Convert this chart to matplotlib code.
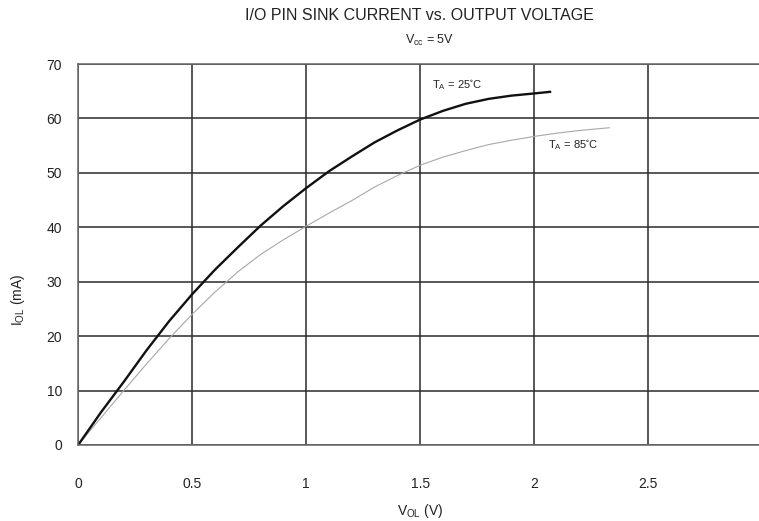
import matplotlib
matplotlib.use('Agg')
import matplotlib.pyplot as plt

plt.rcParams['font.family'] = ['Liberation Sans', 'DejaVu Sans']
plt.rcParams['mathtext.fontset'] = 'custom'
plt.rcParams['mathtext.rm'] = 'Liberation Sans'
plt.rcParams['mathtext.default'] = 'regular'

# data
v_25 = [0.0, 0.1, 0.2, 0.3, 0.4, 0.5, 0.6, 0.7, 0.8, 0.9, 1.0, 1.1, 1.2, 1.3, 1.4,
        1.5, 1.6, 1.7, 1.8, 1.9, 2.0, 2.07]
i_25 = [0, 6.0, 11.6, 17.4, 22.8, 27.7, 32.2, 36.3, 40.3, 43.9, 47.2, 50.3, 53.0, 55.6,
        57.8, 59.8, 61.4, 62.7, 63.6, 64.2, 64.6, 64.9]

v_85 = [0.0, 0.1, 0.2, 0.3, 0.4, 0.5, 0.6, 0.7, 0.8, 0.9, 1.0, 1.1, 1.2, 1.3, 1.4,
        1.5, 1.6, 1.7, 1.8, 1.9, 2.0, 2.1, 2.2, 2.33]
i_85 = [0, 5.0, 10.0, 14.9, 19.6, 24.0, 28.1, 31.8, 35.0, 37.7, 40.2, 42.6, 44.9, 47.4,
        49.5, 51.4, 52.9, 54.1, 55.2, 56.0, 56.7, 57.3, 57.8, 58.3]

x_ticks = [0, 0.5, 1, 1.5, 2, 2.5, 3]
x_tick_labels = ['0', '0.5', '1', '1.5', '2', '2.5', '3']
y_ticks = [0, 10, 20, 30, 40, 50, 60, 70]

fig = plt.figure(figsize=(7.59, 5.21), dpi=100)
ax = fig.add_axes([0.103, 0.146, 0.901, 0.731])

ax.plot(v_85, i_85, color='#a8a8a8', lw=0.8)
ax.plot(v_25, i_25, color='#111111', lw=1.7)

ax.set_xlim(0, 3)
ax.set_ylim(0, 70)
ax.set_xticks(x_ticks)
ax.set_xticklabels(x_tick_labels)
ax.set_yticks(y_ticks)
ax.tick_params(length=0, labelsize=10, colors='#222222')
ax.tick_params(axis='x', pad=23)
ax.tick_params(axis='y', pad=11.5)
ax.grid(True, color='#2a2a2a', lw=1.1)
for s in ax.spines.values():
    s.set_color('#666666')
    s.set_linewidth(1.1)

ax.text(1.553, 66.2, r'T$_{A}$ = 25$^{\circ}$C', fontsize=8, va='center', color='#222222')
ax.text(2.06, 55.2, r'T$_{A}$ = 85$^{\circ}$C', fontsize=8, va='center', color='#222222')

fig.text(0.553, 0.971, 'I/O PIN SINK CURRENT vs. OUTPUT VOLTAGE', ha='center', va='center',
         fontsize=11.5, color='#222222')
fig.text(0.566, 0.923, r'V$_{cc}$ = 5V', ha='center', va='center', fontsize=9, color='#222222')
fig.text(0.553, 0.019, r'V$_{OL}$ (V)', ha='center', va='center', fontsize=10, color='#222222')
fig.text(0.024, 0.424, r'I$_{OL}$ (mA)', ha='center', va='center', rotation=90,
         fontsize=10, color='#222222')

fig.savefig('out.png', dpi=100, facecolor='w')
